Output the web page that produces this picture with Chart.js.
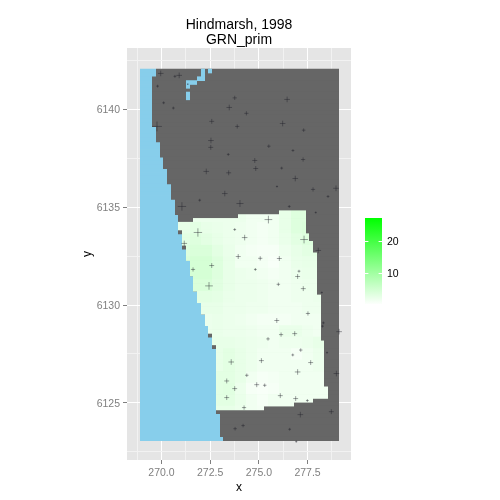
<!DOCTYPE html>
<html>
<head>
<meta charset="utf-8">
<title>Hindmarsh, 1998</title>
<script src="https://cdn.jsdelivr.net/npm/chart.js@4"></script>
<style>
  html, body { margin: 0; padding: 0; background: #fff; }
  canvas { display: block; }
</style>
</head>
<body>
<canvas id="chart" width="500" height="500"></canvas>
<script>
// tick labels
const xTickLabels = [270, 272.5, 275, 277.5]
const yTickLabels = [6125, 6130, 6135, 6140]
const legendTicks = [10, 20]
const legendLow = 0.3
const legendHigh = 27.2

// axis limits
const xMin = 268.23
const xMax = 279.73
const yMin = 6122.08
const yMax = 6143.14

// raster grid: 53 columns by 97 rows
const gridX0 = 268.95
const gridXStep = 0.192
const gridY0 = 6142.06
const gridYStep = 0.1957
const columnCount = 53

// first land column on each row (row 0 is the northern edge)
const seaEdge = [
  4, 4,
  3, 3, 3, 3, 3, 3, 3, 3, 3, 3, 3, 3, 3,
  4, 4, 4, 4, 5, 5, 5, 5, 6, 6, 6, 7, 7, 7, 7,
  8, 8, 8, 8, 9, 9, 9, 9, 10, 10, 10, 10, 10,
  11, 11, 11, 11, 12, 12, 12, 13, 13, 13, 13, 14, 14, 14, 14,
  15, 15, 15, 16, 16, 16, 17, 17, 17, 18, 18, 18, 19, 19, 19,
  20, 20, 20, 20, 20, 20, 20, 20, 20, 20, 20, 20, 20, 20, 20, 20, 20,
  21, 21, 21, 21, 21, 21, 22,
]

// water cells inland, near the top
const lakeRows = [0, 1, 0, 2, 3, 4, 6, 7]
const lakeFrom = [16, 16, 18, 15, 12, 12, 12, 12]
const lakeTo = [17, 17, 19, 17, 15, 13, 13, 13]

// modelled area, rows 37 to 88: first column and end column per row
const fieldFirstRow = 37
const fieldLeft = [
  37, 26, 14, 10, 10, 11, 11, 11, 11, 12, 12, 12, 12,
  13, 13, 13, 13, 14, 14, 14, 14, 15, 15, 15, 16, 16, 16,
  17, 17, 17, 18, 18, 19, 19, 19, 20,
  20, 20, 20, 20, 20, 20, 20, 20, 20, 20, 20, 20, 20, 20, 20, 20,
]
const fieldRight = [
  44, 44, 44, 44, 44, 44, 45, 45, 46, 46, 46,
  47, 47, 47, 47, 47, 47, 47, 47, 47, 47, 47,
  48, 48, 48, 48, 48, 48, 48, 48, 48, 48, 48, 48,
  49, 49, 49, 49, 49, 49, 49, 49, 49, 49, 49, 49,
  50, 50, 50, 46, 41, 33,
]

const blockSpan = 3
const blockFirstColumn = 10
const grnPrim = [
  [2, 2, 2, 2, 2, 2, 1.5, 1.5, 1.5, 2.5, 3.5, 3.5, 3, 3],
  [2.5, 3, 2.5, 2.2, 2, 1.8, 1.5, 1.2, 1.5, 2.5, 3.5, 3.8, 3, 3],
  [3, 3.5, 3, 2.5, 2, 1.8, 1.5, 1.2, 1.5, 2.2, 3, 3.5, 3, 3],
  [3.5, 4, 4, 3, 2.2, 1.5, 1.2, 1, 1, 1.8, 2.5, 3, 3, 3],
  [4, 4.5, 4.5, 3.5, 2.5, 1.5, 1.5, 1.2, 0.8, 1.5, 2.2, 2.5, 2.5, 2.5],
  [4, 4.5, 4.5, 3.5, 2.5, 2, 1.8, 1.5, 1.2, 1.5, 2, 2.2, 2.2, 2.2],
  [3.5, 4, 4, 3.2, 2.5, 2, 2, 1.8, 1.5, 1.5, 1.8, 2, 2, 2],
  [3, 3, 3, 2.8, 2.2, 2, 2, 1.8, 1.5, 1.5, 1.8, 1.8, 2, 2],
  [2.5, 2.5, 2.5, 2.5, 2, 2, 1.8, 1.8, 1.5, 1.5, 1.5, 1.8, 1.8, 1.8],
  [2, 2, 2, 2.2, 2, 1.8, 1.5, 1.2, 1.2, 1.2, 1.5, 1.5, 1.5, 1.5],
  [2, 2, 2, 2.2, 2, 2, 1.8, 1.5, 1.5, 2.2, 2.2, 1.8, 1.5, 1.5],
  [2, 2, 2, 2.5, 2.5, 2.2, 2, 1.8, 1.5, 1.8, 1.8, 2, 2.5, 2.5],
  [2, 2, 2, 2.5, 3, 2.5, 2, 1.5, 1.5, 1.5, 1, 1.5, 2, 2],
  [2, 2, 2, 2.5, 3, 2.5, 2, 1.5, 1.5, 1.5, 1.5, 1.5, 1.8, 1.8],
  [2, 2, 2, 3, 3, 2.5, 1.5, 1, 1.2, 1.5, 1.5, 1.5, 1.5, 1.5],
  [2, 2, 2, 3, 3.2, 2, 1, 0.8, 1, 1.5, 1.5, 1.5, 1.5, 1.5],
  [2, 2, 2, 3, 3, 2.2, 1.5, 1, 1.5, 1.5, 1.5, 1.5, 1.5, 1.5],
  [2, 2, 2, 2.5, 2.5, 2, 1.5, 1.2, 1.5, 1.5, 1.5, 1.5, 1.5, 1.5],
]

// sampling sites
const siteX = [
  269.96, 270.69, 270.91, 269.8, 271.35, 270.11, 270.61, 273.76, 273.48, 272.58,
  273.89, 269.77, 272.54, 272.53, 273.43, 272.3, 273.45, 276.45, 274.36, 276.22,
  277.3, 275.51, 276.75, 277.27, 274.79, 274.84, 276.17, 276.87, 275.93, 277.78,
  278.96, 273.25, 271.96, 271.05, 274.03, 271.87, 273.76, 274.27, 271.17, 273.94,
  272.58, 271.62, 274.82, 272.44, 278.55, 276.56, 277.92, 275.49, 277.32, 278.05,
  275.07, 276.05, 277.06, 276.99, 277.28, 276, 278.23, 277.52, 273.58, 274.38,
  273.35, 273.76, 274.89, 273.35, 274.24, 274.19, 273.78, 275.92, 276.14, 276.84,
  275.47, 278.31, 278.27, 279.12, 277.15, 276.74, 275.13, 277.66, 278.5, 276.99,
  278.98, 275.3, 276.1, 276.89, 277.49, 278.72, 277.13, 276.58, 276.92,
]
const siteY = [
  6141.84, 6141.69, 6141.74, 6141.19, 6141.29, 6140.34, 6140.07, 6140.59, 6140.1, 6139.39,
  6139.13, 6139.13, 6138.41, 6138.06, 6137.7, 6136.83, 6136.76, 6140.51, 6139.8, 6139.28,
  6138.94, 6138.12, 6137.9, 6137.44, 6137.39, 6136.98, 6137, 6136.47, 6136.06, 6135.91,
  6135.97, 6135.7, 6135.36, 6135.04, 6135.19, 6133.71, 6133.86, 6133.45, 6133.15, 6132.48,
  6132.02, 6131.82, 6131.82, 6130.98, 6135.55, 6135.04, 6134.73, 6134.37, 6133.35, 6132.79,
  6132.39, 6132.38, 6131.73, 6131.46, 6130.84, 6131.06, 6130.64, 6129.57, 6127.09, 6126.41,
  6126.12, 6125.73, 6125.93, 6125.27, 6124.76, 6123.84, 6123.68, 6129.21, 6128.49, 6128.54,
  6128.27, 6129.09, 6128.92, 6128.64, 6127.7, 6127.45, 6127.16, 6127.06, 6127.57, 6126.58,
  6126.5, 6125.9, 6125.37, 6125.22, 6125.12, 6124.55, 6124.4, 6123.65, 6123.02,
]
const siteCatch = [
  8, 4, 8, 4, 2, 4, 4, 6, 8, 7,
  6, 14, 8, 7, 4, 8, 7, 8, 6, 8,
  5, 5, 4, 6, 7, 7, 4, 8, 3, 6,
  8, 8, 4, 12, 10, 12, 4, 8, 8, 7,
  7, 6, 4, 11, 4, 4, 3, 11, 11, 8,
  6, 7, 4, 7, 7, 5, 3, 6, 8, 5,
  7, 7, 7, 7, 6, 5, 5, 7, 6, 7,
  5, 4, 4, 8, 5, 4, 7, 7, 3, 8,
  8, 5, 7, 7, 4, 7, 8, 4, 3,
]

const LAND = "#666666"
const SEA = "#87CEEB"
const PANEL = "#E5E5E5"
const GREY50 = "#7F7F7F"
const FONT = "'Liberation Sans', Arial, sans-serif"

// panel is 224px wide; keep cell edges on whole pixels so they stay sharp
const pxPerX = 224 / (xMax - xMin)
const snapX = x => xMin + Math.round((x - xMin) * pxPerX) / pxPerX
const colX = c => snapX(gridX0 + c * gridXStep)
const rowY = r => gridY0 - (r + 0.5) * gridYStep

// white to pure green over the legend range
function grnColor(v) {
  const t = Math.min(1, Math.max(0, v / legendHigh))
  const rb = Math.round(255 * (1 - t))
  return `rgb(${rb},255,${rb})`
}

const seaBars = seaEdge.map((c, r) => ({ x: [snapX(268.9), colX(c)], y: rowY(r) }))
const landBars = seaEdge.map((c, r) => ({ x: [colX(c), colX(columnCount)], y: rowY(r) }))
const lakeBars = lakeRows.map((r, i) => ({ x: [colX(lakeFrom[i]), colX(lakeTo[i])], y: rowY(r) }))

const fieldBars = []
const fieldColors = []
fieldLeft.forEach((left, i) => {
  const row = fieldFirstRow + i
  const values = grnPrim[Math.floor(i / blockSpan)]
  let c = left
  while (c < fieldRight[i]) {
    const block = Math.floor((c - blockFirstColumn) / blockSpan)
    const end = Math.min(fieldRight[i], blockFirstColumn + (block + 1) * blockSpan)
    fieldBars.push({ x: [colX(c), colX(end)], y: rowY(row) })
    fieldColors.push(grnColor(values[block]))
    c = end
  }
})

const sitePoints = siteX.map((x, i) => ({ x, y: siteY[i] }))

function rasterDataset(data, color, order) {
  return {
    type: "bar",
    indexAxis: "y",
    data,
    backgroundColor: color,
    borderWidth: 0,
    inflateAmount: 0,
    barThickness: 4.6,
    grouped: false,
    order,
  }
}

const panelBackground = {
  id: "panelBackground",
  beforeDraw(chart) {
    const { ctx, chartArea: a } = chart
    ctx.save()
    ctx.fillStyle = PANEL
    ctx.fillRect(a.left, a.top, a.right - a.left, a.bottom - a.top)
    ctx.restore()
  },
}

// ggplot style colour bar to the right of the panel
const colourBar = {
  id: "colourBar",
  afterDraw(chart) {
    const { ctx } = chart
    const left = 365, right = 382, top = 218, bottom = 304
    const valueY = v => bottom - (v - legendLow) * (bottom - top) / (legendHigh - legendLow)
    ctx.save()
    const grad = ctx.createLinearGradient(0, bottom, 0, top)
    grad.addColorStop(0, grnColor(legendLow))
    grad.addColorStop(1, grnColor(legendHigh))
    ctx.fillStyle = grad
    ctx.fillRect(left, top, right - left, bottom - top)
    ctx.strokeStyle = "#fff"
    ctx.lineWidth = 1
    ctx.fillStyle = "#000"
    ctx.font = `10.5px ${FONT}`
    ctx.textAlign = "left"
    ctx.textBaseline = "middle"
    legendTicks.forEach(v => {
      const y = Math.round(valueY(v)) + 0.5
      ctx.beginPath()
      ctx.moveTo(left, y)
      ctx.lineTo(left + 3.4, y)
      ctx.moveTo(right - 3.4, y)
      ctx.lineTo(right, y)
      ctx.stroke()
      ctx.fillText(String(v), 387, y + 1)
    })
    ctx.restore()
  },
}

const isMajorX = c => xTickLabels.includes(c.tick?.value)
const isMajorY = c => yTickLabels.includes(c.tick?.value)

new Chart(document.getElementById("chart"), {
  type: "bar",
  data: {
    datasets: [
      {
        type: "scatter",
        indexAxis: "x",
        data: sitePoints,
        pointStyle: "cross",
        pointRadius: ctx => siteCatch[ctx.dataIndex] * 0.35,
        borderColor: "rgba(30,30,40,0.42)",
        backgroundColor: "rgba(30,30,40,0.42)",
        pointBorderWidth: 1,
        order: 0,
      },
      rasterDataset(fieldBars, fieldColors, 1),
      rasterDataset(lakeBars, SEA, 2),
      rasterDataset(landBars, LAND, 3),
      rasterDataset(seaBars, SEA, 4),
    ],
  },
  options: {
    responsive: false,
    animation: false,
    layout: { padding: { left: 80, right: 149, top: 0, bottom: 5 } },
    plugins: {
      legend: { display: false },
      tooltip: { enabled: false },
      title: {
        display: true,
        fullSize: false,
        text: ["Hindmarsh, 1998", "GRN_prim"],
        color: "#000",
        font: { family: FONT, size: 14, weight: "normal", lineHeight: "15.5px" },
        padding: { top: 17, bottom: 0 },
      },
    },
    scales: {
      x: {
        type: "linear",
        offset: false,
        min: xMin,
        max: xMax,
        afterFit: s => { s.height = 35 },
        title: { display: true, text: "x", color: "#000", font: { family: FONT, size: 12 }, padding: 0 },
        border: { display: false },
        grid: {
          offset: false,
          color: c => (isMajorX(c) ? "#FFFFFF" : "#F2F2F2"),
          tickColor: c => (isMajorX(c) ? GREY50 : "rgba(0,0,0,0)"),
          tickLength: 4,
          lineWidth: 1,
        },
        ticks: {
          stepSize: 1.25,
          includeBounds: false,
          autoSkip: false,
          maxRotation: 0,
          color: GREY50,
          font: { family: FONT, size: 10.5 },
          padding: 3,
          callback: v => (xTickLabels.includes(v) ? v.toFixed(1) : ""),
        },
      },
      y: {
        type: "linear",
        offset: false,
        min: yMin,
        max: yMax,
        afterFit: s => { s.width = 47 },
        title: { display: true, text: "y", color: "#000", font: { family: FONT, size: 12 }, padding: 0 },
        border: { display: false },
        grid: {
          offset: false,
          color: c => (isMajorY(c) ? "#FFFFFF" : "#F2F2F2"),
          tickColor: c => (isMajorY(c) ? GREY50 : "rgba(0,0,0,0)"),
          tickLength: 4,
          lineWidth: 1,
        },
        ticks: {
          stepSize: 2.5,
          includeBounds: false,
          autoSkip: false,
          color: GREY50,
          font: { family: FONT, size: 10.5 },
          padding: 3,
          labelOffset: 1,
          callback: v => (yTickLabels.includes(v) ? String(v) : ""),
        },
      },
    },
  },
  plugins: [panelBackground, colourBar],
})
</script>
</body>
</html>
